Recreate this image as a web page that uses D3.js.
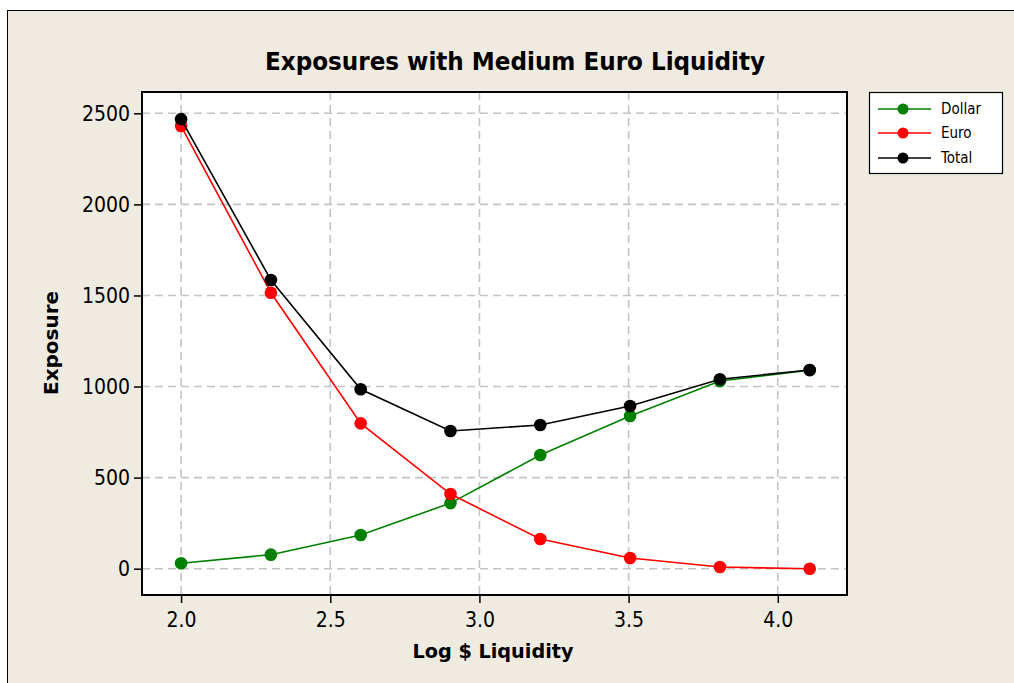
<!DOCTYPE html>
<html><head><meta charset="utf-8">
<script src="https://cdn.jsdelivr.net/npm/d3@7"></script>
<style>
html,body{margin:0;padding:0;background:#fff;}
svg{display:block;}
</style></head>
<body>
<svg id="chart" width="1014" height="683"></svg>
<script>
const title = "Exposures with Medium Euro Liquidity";
const xLabel = "Log $ Liquidity";
const yLabel = "Exposure";
const logLiquidity = [2.000, 2.301, 2.602, 2.903, 3.204, 3.505, 3.806, 4.107];
const dollar = [30, 77, 185, 360, 624, 838, 1030, 1090];
const euro   = [2430, 1515, 798, 410, 163, 59, 9, 0];
const total  = [2468, 1585, 985, 756, 789, 893, 1040, 1091];
const seriesNames = ["Dollar", "Euro", "Total"];
const seriesColors = ["#008000", "#ff0000", "#000000"];
const xTicks = [2.0, 2.5, 3.0, 3.5, 4.0];
const yTicks = [0, 500, 1000, 1500, 2000, 2500];

const svg = d3.select("#chart");
const W = 1014, H = 683;
const FONT = "'DejaVu Sans Condensed', 'DejaVu Sans', sans-serif";

// outer frame
svg.append("rect").attr("x", 7.5).attr("y", 10.5).attr("width", W).attr("height", H)
  .attr("fill", "#efebe1").attr("stroke", "#000").attr("stroke-width", 1);

const plot = {left: 142, top: 92, right: 847, bottom: 595};
const x = d3.scaleLinear().domain([1.869, 4.232]).range([plot.left, plot.right]);
const y = d3.scaleLinear().domain([-144.4, 2617]).range([plot.bottom, plot.top]);

svg.append("rect").attr("x", plot.left).attr("y", plot.top)
  .attr("width", plot.right - plot.left).attr("height", plot.bottom - plot.top)
  .attr("fill", "#fff");

// gridlines
const grid = svg.append("g").attr("stroke", "#c4c4c4").attr("stroke-width", 1.6)
  .attr("stroke-dasharray", "8,5");
grid.selectAll("line.v").data(xTicks).join("line").attr("class", "v")
  .attr("x1", d => x(d)).attr("x2", d => x(d)).attr("y1", plot.top).attr("y2", plot.bottom);
grid.selectAll("line.h").data(yTicks).join("line").attr("class", "h")
  .attr("y1", d => y(d)).attr("y2", d => y(d)).attr("x1", plot.left).attr("x2", plot.right);

// axes
const xAxis = svg.append("g").attr("transform", `translate(0,${plot.bottom})`)
  .call(d3.axisBottom(x).tickValues(xTicks).tickFormat(d3.format(".1f")).tickSize(8).tickSizeOuter(0));
const yAxis = svg.append("g").attr("transform", `translate(${plot.left},0)`)
  .call(d3.axisLeft(y).tickValues(yTicks).tickFormat(d3.format("d")).tickSize(8).tickSizeOuter(0));
[xAxis, yAxis].forEach(a => {
  a.select(".domain").remove();
  a.selectAll(".tick line").attr("stroke", "#000").attr("stroke-width", 1.5);
  a.selectAll(".tick text").attr("font-family", FONT).attr("font-size", 21).attr("fill", "#000");
});
xAxis.selectAll(".tick text").attr("dy", "0.71em").attr("y", 17);
yAxis.selectAll(".tick text").attr("x", -12);

// frame
svg.append("rect").attr("x", plot.left).attr("y", plot.top)
  .attr("width", plot.right - plot.left).attr("height", plot.bottom - plot.top)
  .attr("fill", "none").attr("stroke", "#000").attr("stroke-width", 2);

// series
const seriesData = [dollar, euro, total];
const line = d3.line().x(d => x(d[0])).y(d => y(d[1]));
seriesData.forEach((vals, i) => {
  const pts = logLiquidity.map((lx, j) => [lx, vals[j]]);
  const g = svg.append("g");
  g.append("path").datum(pts).attr("d", line).attr("fill", "none")
    .attr("stroke", seriesColors[i]).attr("stroke-width", 1.6);
  g.selectAll("circle").data(pts).join("circle")
    .attr("cx", d => x(d[0])).attr("cy", d => y(d[1])).attr("r", 6.3)
    .attr("fill", seriesColors[i]);
});

// title
svg.append("text").attr("x", 515).attr("y", 70).attr("text-anchor", "middle")
  .attr("font-family", FONT).attr("font-weight", "bold").attr("font-size", 24)
  .attr("textLength", 500).attr("lengthAdjust", "spacingAndGlyphs")
  .text(title);
// x label
svg.append("text").attr("x", 493).attr("y", 658).attr("text-anchor", "middle")
  .attr("font-family", FONT).attr("font-weight", "bold").attr("font-size", 20)
  .attr("textLength", 161).attr("lengthAdjust", "spacingAndGlyphs")
  .text(xLabel);
// y label
svg.append("text").attr("transform", "translate(58,343) rotate(-90)").attr("text-anchor", "middle")
  .attr("font-family", FONT).attr("font-weight", "bold").attr("font-size", 20)
  .attr("textLength", 104).attr("lengthAdjust", "spacingAndGlyphs")
  .text(yLabel);

// legend
const lg = svg.append("g");
lg.append("rect").attr("x", 869.5).attr("y", 92.5).attr("width", 133).attr("height", 81)
  .attr("fill", "#fff").attr("stroke", "#000").attr("stroke-width", 1.2);
const ly = [109, 133, 158];
seriesNames.forEach((n, i) => {
  lg.append("line").attr("x1", 878).attr("x2", 931).attr("y1", ly[i]).attr("y2", ly[i])
    .attr("stroke", seriesColors[i]).attr("stroke-width", 1.5);
  lg.append("circle").attr("cx", 903).attr("cy", ly[i]).attr("r", 5.5).attr("fill", seriesColors[i]);
  lg.append("text").attr("x", 941).attr("y", ly[i]).attr("dy", "0.35em")
    .attr("font-family", FONT).attr("font-size", 15).attr("fill", "#000").text(n);
});
</script>
</body></html>
